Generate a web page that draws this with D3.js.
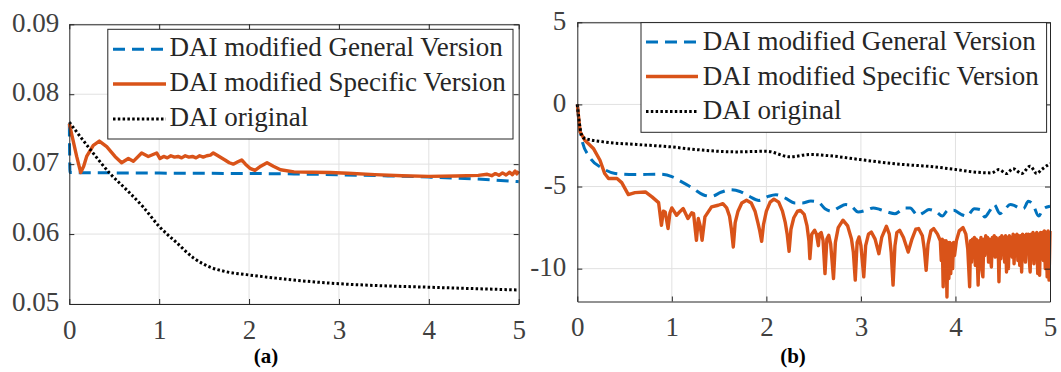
<!DOCTYPE html>
<html><head><meta charset="utf-8">
<script src="https://cdn.jsdelivr.net/npm/d3@7"></script>
<style>
html,body{margin:0;padding:0;background:#fff;}
svg{display:block;}
</style></head>
<body>
<script>
// ---------- data ----------
const seriesNames = ["DAI modified General Version", "DAI modified Specific Version", "DAI original"];
const xTicks = [0, 1, 2, 3, 4, 5];
const xTickLabels = ["0", "1", "2", "3", "4", "5"];
const yTicksA = [0.05, 0.06, 0.07, 0.08, 0.09];
const yTickLabelsA = ["0.05", "0.06", "0.07", "0.08", "0.09"];
const yTicksB = [-10, -5, 0, 5];
const yTickLabelsB = ["-10", "-5", "0", "5"];
const panelLabels = ["(a)", "(b)"];

// panel (a)
const generalA = [[0,0.0757],[0.008,0.0688],[0.5,0.06875],[1,0.06872],[1.5,0.06869],[2,0.06866],[2.5,0.06860],[3,0.06848],[3.5,0.06833],[4,0.06815],[4.5,0.06790],[5,0.06750]];
const specificA = [[0,0.0758],[0.04,0.0735],[0.082,0.0711],[0.127,0.0688],[0.16,0.0697],[0.193,0.0711],[0.267,0.0727],[0.334,0.0733],[0.416,0.0725],[0.508,0.0711],[0.582,0.0702],[0.657,0.0708],[0.712,0.0704],[0.805,0.0716],[0.879,0.0711],[0.972,0.0716],[1.009,0.0708],[1.05,0.0711],[1.09,0.0709],[1.13,0.0712],[1.17,0.0710],[1.21,0.0711],[1.25,0.0709],[1.29,0.0712],[1.33,0.0710],[1.37,0.0711],[1.41,0.0709],[1.45,0.0712],[1.49,0.0710],[1.53,0.0712],[1.57,0.0713],[1.602,0.0716],[1.64,0.0713],[1.732,0.0706],[1.78,0.0702],[1.824,0.0700],[1.87,0.0703],[1.918,0.0706],[1.96,0.0700],[2.01,0.0694],[2.066,0.0691],[2.13,0.0697],[2.2,0.0702],[2.27,0.0697],[2.35,0.0692],[2.5,0.0689],[2.7,0.06885],[2.9,0.06880],[3.1,0.06870],[3.4,0.06850],[3.7,0.06835],[4.0,0.06825],[4.3,0.06830],[4.55,0.06840],[4.65,0.06855],[4.7,0.06835],[4.74,0.06865],[4.78,0.06840],[4.82,0.06875],[4.86,0.06845],[4.9,0.06885],[4.93,0.06850],[4.96,0.06900],[4.98,0.06860],[5.0,0.06900]];
const originalA = [[0,0.0760],[0.27,0.0715],[0.45,0.0687],[0.64,0.0663],[0.82,0.0639],[1.0,0.0611],[1.2,0.0587],[1.38,0.0566],[1.56,0.0553],[1.75,0.0546],[1.97,0.0542],[2.3,0.0537],[2.6,0.0533],[3.0,0.0529],[3.5,0.0526],[4.0,0.0524],[4.5,0.0522],[5.0,0.0520]];

// panel (b)
const generalB = [[0,0],[0.02,-1.2],[0.05,-2.2],[0.13,-3.2],[0.27,-3.9],[0.4,-4.2],[0.6,-4.27],[0.87,-4.25],[1.0,-4.4],[1.1,-4.7],[1.22,-5.1],[1.33,-5.5],[1.42,-5.6],[1.52,-5.35],[1.62,-5.2],[1.72,-5.3],[1.82,-5.6],[1.92,-5.85],[2.02,-5.6],[2.1,-5.5],[2.2,-5.7],[2.3,-6.0],[2.38,-6.0],[2.47,-5.88],[2.55,-5.95],[2.62,-6.35],[2.69,-6.5],[2.76,-6.3],[2.84,-6.1],[2.9,-6.2],[2.97,-6.55],[3.05,-6.45],[3.13,-6.3],[3.2,-6.4],[3.28,-6.55],[3.36,-6.65],[3.47,-6.3],[3.52,-6.3],[3.6,-6.75],[3.66,-6.6],[3.72,-6.4],[3.8,-6.55],[3.86,-6.8],[3.92,-6.45],[3.98,-6.45],[4.06,-6.7],[4.12,-6.8],[4.2,-6.35],[4.26,-6.4],[4.31,-6.85],[4.36,-6.5],[4.41,-6.1],[4.47,-6.65],[4.52,-6.4],[4.58,-6.1],[4.62,-6.15],[4.67,-6.3],[4.72,-6.35],[4.77,-5.9],[4.82,-6.1],[4.88,-6.8],[4.93,-6.35],[5.0,-6.2]];
const specificB = [[0,0],[0.03,-1.67],[0.08,-2.18],[0.17,-2.68],[0.24,-3.4],[0.29,-4.21],[0.33,-4.51],[0.42,-4.51],[0.47,-4.76],[0.54,-5.49],[0.61,-5.37],[0.72,-5.33],[0.79,-5.63],[0.86,-5.98],[0.89,-7.36],[0.91,-6.5],[0.93,-6.55],[0.96,-7.56],[0.98,-6.6],[1.0,-6.3],[1.05,-6.75],[1.09,-6.5],[1.12,-6.34],[1.17,-6.95],[1.21,-6.6],[1.23,-6.65],[1.26,-8.27],[1.28,-6.95],[1.3,-7.4],[1.32,-8.27],[1.35,-6.85],[1.42,-6.24],[1.49,-6.14],[1.54,-6.04],[1.58,-6.3],[1.61,-6.8],[1.63,-7.6],[1.65,-8.68],[1.67,-7.2],[1.7,-6.5],[1.74,-6.0],[1.79,-5.84],[1.84,-6.0],[1.88,-6.5],[1.91,-7.2],[1.93,-7.7],[1.95,-8.34],[1.97,-7.3],[2.0,-6.5],[2.04,-5.95],[2.08,-5.77],[2.13,-5.95],[2.17,-6.5],[2.2,-7.2],[2.22,-7.9],[2.24,-8.95],[2.26,-7.6],[2.29,-6.9],[2.33,-6.5],[2.36,-6.45],[2.4,-6.7],[2.43,-7.4],[2.45,-8.3],[2.46,-9.39],[2.48,-7.9],[2.51,-7.66],[2.53,-7.9],[2.55,-8.6],[2.56,-7.9],[2.58,-7.8],[2.6,-8.3],[2.62,-10.3],[2.64,-8.2],[2.66,-7.97],[2.68,-8.5],[2.71,-10.6],[2.73,-8.4],[2.76,-7.5],[2.81,-7.05],[2.86,-7.4],[2.9,-8.2],[2.92,-9.0],[2.94,-10.7],[2.96,-8.4],[2.98,-8.07],[3.0,-8.6],[3.03,-10.5],[3.05,-8.6],[3.08,-7.9],[3.11,-7.77],[3.15,-8.2],[3.19,-9.09],[3.22,-8.1],[3.27,-7.42],[3.3,-7.9],[3.32,-9.0],[3.34,-11.0],[3.36,-8.6],[3.38,-7.8],[3.41,-7.66],[3.45,-8.1],[3.5,-8.99],[3.54,-8.2],[3.58,-7.6],[3.61,-7.56],[3.65,-8.0],[3.67,-8.8],[3.69,-10.1],[3.71,-8.5],[3.74,-7.7],[3.77,-7.56],[3.81,-7.9],[3.84,-8.3],[3.85,-9.5],[3.86,-8.2],[3.87,-11.1],[3.88,-8.3],[3.89,-10.0],[3.9,-8.3],[3.91,-11.73],[3.92,-8.4],[3.93,-10.6],[3.94,-8.4],[3.95,-10.3],[3.96,-8.5],[3.97,-10.0],[3.98,-8.4],[3.99,-9.2],[4.01,-8.3],[4.04,-7.7],[4.08,-7.5],[4.11,-7.9],[4.13,-8.8],[4.15,-11.1],[4.16,-8.3],[4.17,-9.6],[4.18,-8.2],[4.19,-9.0],[4.2,-8.1],[4.21,-9.8],[4.22,-8.2],[4.23,-9.3],[4.24,-11.0],[4.25,-8.3],[4.26,-9.4],[4.27,-8.1],[4.28,-10.1],[4.29,-10.5],[4.3,-8.2],[4.31,-9.2],[4.32,-8.0],[4.33,-8.9],[4.34,-8.1],[4.35,-9.6],[4.36,-8.2],[4.37,-9.0],[4.38,-9.9],[4.39,-8.1],[4.4,-8.8],[4.41,-8.0],[4.42,-9.3],[4.43,-8.1],[4.44,-9.0],[4.45,-8.2],[4.46,-10.8],[4.47,-8.1],[4.48,-9.4],[4.49,-8.0],[4.5,-9.1],[4.51,-8.1],[4.52,-9.6],[4.53,-8.0],[4.54,-10.2],[4.55,-8.1],[4.56,-10.0],[4.57,-8.0],[4.58,-9.0],[4.59,-8.1],[4.6,-9.3],[4.61,-7.9],[4.62,-9.7],[4.63,-8.0],[4.64,-9.1],[4.65,-7.9],[4.66,-9.5],[4.67,-8.0],[4.68,-9.8],[4.69,-8.0],[4.7,-10.2],[4.71,-7.9],[4.72,-9.2],[4.73,-8.0],[4.74,-9.6],[4.75,-7.9],[4.76,-8.9],[4.77,-7.9],[4.78,-9.4],[4.79,-10.2],[4.8,-7.9],[4.81,-9.0],[4.82,-7.8],[4.83,-9.7],[4.84,-7.9],[4.85,-9.2],[4.86,-7.8],[4.87,-10.3],[4.88,-7.9],[4.89,-10.4],[4.9,-7.8],[4.91,-9.3],[4.92,-7.8],[4.93,-9.5],[4.94,-7.7],[4.95,-10.0],[4.96,-7.8],[4.97,-10.5],[4.98,-7.7],[4.99,-10.7],[5.0,-7.7]];
const originalB = [[0,0],[0.03,-1.46],[0.063,-2.03],[0.275,-2.28],[0.628,-2.44],[0.98,-2.58],[1.26,-2.75],[1.69,-2.89],[2.0,-2.85],[2.25,-3.19],[2.46,-3.05],[2.71,-3.15],[2.99,-3.36],[3.41,-3.64],[3.77,-3.8],[4.01,-3.97],[4.19,-4.11],[4.38,-4.17],[4.46,-3.97],[4.54,-4.21],[4.61,-3.91],[4.7,-4.21],[4.79,-3.76],[4.86,-4.21],[4.91,-3.97],[5.0,-3.6]];

// ---------- styles ----------
const colors = ["#0072BD", "#D95319", "#000000"];
const dashes = ["12,7", null, "2.5,2.3"];
const widths = [3, 3.4, 3];
const curves = [d3.curveMonotoneX, d3.curveLinear, d3.curveMonotoneX];
const FONT = 27;
const FAMILY = "Liberation Serif";

const svg = d3.select("body").append("svg").attr("width", 1061).attr("height", 372)
  .attr("font-family", FAMILY);

function setFont(sel, size) {
  sel.attr("font-family", FAMILY).attr("font-size", size);
}

function panel(cfg, idx) {
  const x = d3.scaleLinear().domain([0, 5]).range([cfg.x0, cfg.x1]);
  const y = d3.scaleLinear().domain(cfg.yDomain).range([cfg.y1, cfg.y0]);
  const g = svg.append("g");

  // grid
  g.selectAll(".gx").data(xTicks.slice(1, -1)).join("line")
    .attr("x1", d => x(d)).attr("x2", d => x(d)).attr("y1", cfg.y0).attr("y2", cfg.y1)
    .attr("stroke", "#e1e1e1").attr("stroke-width", 1);
  g.selectAll(".gy").data(cfg.yTicks).join("line")
    .attr("x1", cfg.x0).attr("x2", cfg.x1).attr("y1", d => y(d)).attr("y2", d => y(d))
    .attr("stroke", "#e1e1e1").attr("stroke-width", 1);

  // clip
  const cid = "clip" + idx;
  svg.append("clipPath").attr("id", cid).append("rect")
    .attr("x", cfg.x0 - 2).attr("y", cfg.y0).attr("width", cfg.x1 - cfg.x0 + 4).attr("height", cfg.y1 - cfg.y0);

  const lines = g.append("g").attr("clip-path", `url(#${cid})`);
  cfg.series.forEach((s, i) => {
    const line = d3.line().x(d => x(d[0])).y(d => y(d[1])).curve(curves[i]);
    lines.append("path").datum(s).attr("d", line)
      .attr("fill", "none").attr("stroke", colors[i]).attr("stroke-width", widths[i])
      .attr("stroke-dasharray", dashes[i]).attr("stroke-linejoin", "round");
  });

  const axColor = "#262626";
  const ax = (axis, tr) => {
    const a = g.append("g").attr("transform", tr).call(axis);
    a.attr("font-family", FAMILY).attr("font-size", FONT);
    a.select(".domain").attr("stroke", axColor).attr("stroke-width", 1);
    a.selectAll(".tick line").attr("stroke", axColor).attr("stroke-width", 1);
    setFont(a.selectAll("text"), FONT);
    a.selectAll("text").attr("fill", "#404040");
    return a;
  };
  ax(d3.axisBottom(x).tickValues(xTicks).tickFormat((d, i) => xTickLabels[i]).tickSizeInner(-5).tickSizeOuter(0).tickPadding(15.5),
     `translate(0,${cfg.y1})`);
  ax(d3.axisTop(x).tickValues(xTicks).tickFormat("").tickSizeInner(-5).tickSizeOuter(0), `translate(0,${cfg.y0})`);
  const la = ax(d3.axisLeft(y).tickValues(cfg.yTicks).tickFormat((d, i) => cfg.yTickLabels[i]).tickSizeInner(-5).tickSizeOuter(0).tickPadding(cfg.yPad),
     `translate(${cfg.x0},0)`);
  la.selectAll("text").attr("dy", "0.25em");
  ax(d3.axisRight(y).tickValues(cfg.yTicks).tickFormat("").tickSizeInner(-5).tickSizeOuter(0), `translate(${cfg.x1},0)`);

  // legend
  const L = cfg.legend;
  g.append("rect").attr("x", L.x0).attr("y", L.y0).attr("width", L.x1 - L.x0).attr("height", L.y1 - L.y0)
    .attr("fill", "#fff").attr("stroke", axColor).attr("stroke-width", 1);
  seriesNames.forEach((name, i) => {
    g.append("line").attr("x1", L.sx0).attr("x2", L.sx1).attr("y1", L.rows[i]).attr("y2", L.rows[i])
      .attr("stroke", colors[i]).attr("stroke-width", widths[i]).attr("stroke-dasharray", dashes[i]);
    const t = g.append("text").attr("x", L.tx).attr("y", L.base[i]).text(name).attr("fill", "#262626");
    setFont(t, FONT);
  });

  // panel label
  const pl = g.append("text").attr("x", cfg.labelX).attr("y", 363).attr("text-anchor", "middle")
    .attr("font-weight", "bold").attr("fill", "#000").text(panelLabels[idx]);
  setFont(pl, 21);
}

panel({
  x0: 69.3, x1: 518.7, y0: 24.3, y1: 304, yDomain: [0.05, 0.09],
  yTicks: yTicksA, yTickLabels: yTickLabelsA, yPad: 10,
  series: [generalA, specificA, originalA],
  legend: { x0: 107.8, x1: 513, y0: 29.3, y1: 139, sx0: 113, sx1: 166, tx: 169.5,
            rows: [49.3, 84, 119], base: [56, 90.7, 126] },
  labelX: 266
}, 0);

panel({
  x0: 577.3, x1: 1050, y0: 22.3, y1: 301.5, yDomain: [-12, 5],
  yTicks: yTicksB, yTickLabels: yTickLabelsB, yPad: 11,
  series: [generalB, specificB, originalB],
  legend: { x0: 641, x1: 1046.6, y0: 22.6, y1: 132.3, sx0: 646, sx1: 698, tx: 702.7,
            rows: [42, 76.5, 111.5], base: [50, 84.8, 119] },
  labelX: 793
}, 1);
</script>
</body></html>
